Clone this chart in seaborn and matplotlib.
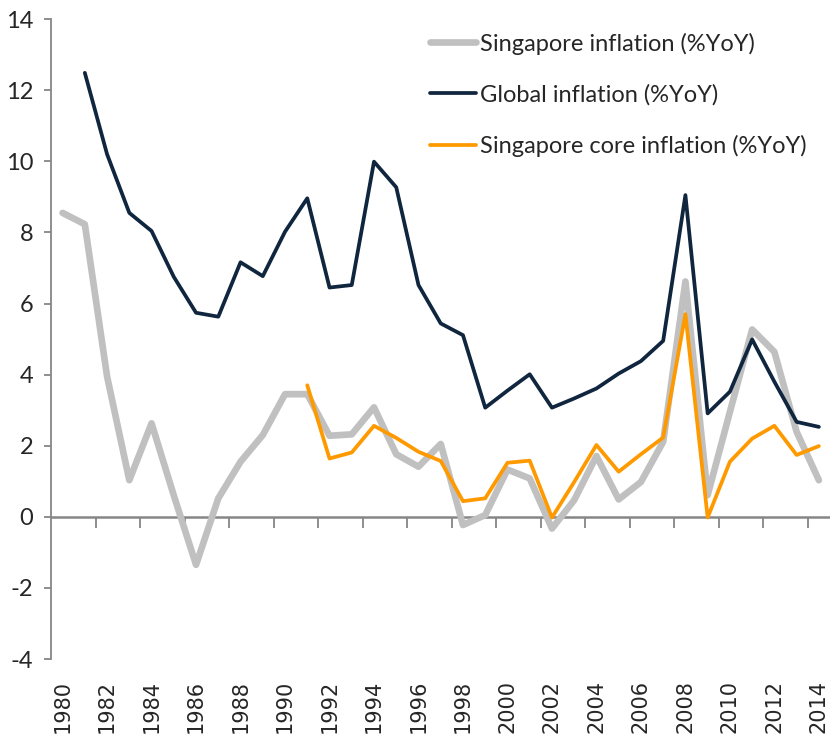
import numpy as np
import pandas as pd
import seaborn as sns
import matplotlib.pyplot as plt

# Yillik enflasyon verileri (%YoY), 1980-2014
years = list(range(1980, 2015))
nan = np.nan

sg_headline = [8.55, 8.23, 3.95, 1.03, 2.63, 0.6, -1.35, 0.52, 1.55, 2.3,
               3.45, 3.45, 2.28, 2.32, 3.08, 1.76, 1.41, 2.05, -0.23, 0.05,
               1.33, 1.08, -0.33, 0.47, 1.71, 0.49, 0.98, 2.11, 6.62, 0.61,
               2.95, 5.27, 4.64, 2.39, 1.03]

global_infl = [nan, 12.49, 10.2, 8.55, 8.04, 6.75, 5.74, 5.63, 7.16, 6.77,
               8.02, 8.96, 6.45, 6.52, 9.99, 9.27, 6.52, 5.44, 5.11, 3.07,
               3.55, 4.01, 3.07, 3.33, 3.61, 4.03, 4.38, 4.95, 9.05, 2.91,
               3.52, 4.99, 3.8, 2.67, 2.53]

sg_core = [nan] * 11 + [3.7, 1.64, 1.81, 2.56, 2.22, 1.83, 1.57, 0.44, 0.52,
                        1.52, 1.58, -0.02, 0.98, 2.02, 1.27, 1.76, 2.23, 5.7,
                        -0.02, 1.55, 2.2, 2.56, 1.74, 1.99]

labels = ["Singapore inflation (%YoY)", "Global inflation (%YoY)",
          "Singapore core inflation (%YoY)"]

df = pd.DataFrame({"year": years, "sg": sg_headline,
                   "glob": global_infl, "core": sg_core})

sns.set_style("white")
plt.rcParams["font.family"] = ["Lato", "DejaVu Sans"]
plt.rcParams["axes.unicode_minus"] = False

fig = plt.figure(figsize=(8.3, 7.51), dpi=100)
ax = fig.add_axes([0.062, 0.1225, 0.938, 0.852])

axis_gray = "#868686"

sns.lineplot(data=df, x="year", y="sg", color="#C0C0C0", lw=4.8,
             label=labels[0], ax=ax)
sns.lineplot(data=df, x="year", y="glob", color="#10263F", lw=2.7,
             label=labels[1], ax=ax)
sns.lineplot(data=df, x="year", y="core", color="#FF9900", lw=2.7,
             label=labels[2], ax=ax)

ax.set_xlim(1979.5, 2014.5)
ax.set_ylim(-4, 14)
ax.set_yticks(range(-4, 15, 2))
ax.set_xticks(range(1980, 2015, 2))
ax.set_xlabel("")
ax.set_ylabel("")

# eksenler
for s in ["top", "right", "bottom"]:
    ax.spines[s].set_visible(False)
ax.spines["left"].set_color(axis_gray)
ax.spines["left"].set_linewidth(1.3)
ax.tick_params(axis="y", direction="out", length=5, width=1.3,
               color=axis_gray, pad=8, labelsize=17, left=True)
ax.tick_params(axis="x", length=0, pad=15, labelrotation=90)
for t in ax.get_xticklabels():
    t.set_fontfamily("DejaVu Sans")
    t.set_fontsize(15)

# sifir cizgisi ve tick isaretleri
zero_ax = ax.secondary_xaxis(0, transform=ax.transData)
zero_ax.set_xticks([y + 0.5 for y in range(1981, 2014, 2)])
zero_ax.set_xticklabels([])
zero_ax.tick_params(direction="out", length=8, width=1.3, color=axis_gray)
zero_ax.spines["bottom"].set_color(axis_gray)
zero_ax.spines["bottom"].set_linewidth(1.8)

ax.legend(loc="upper left", bbox_to_anchor=(0.465, 1.005), frameon=False,
          fontsize=17, handlelength=1.95, handletextpad=0.15,
          labelspacing=1.25, borderaxespad=0.3)

fig.savefig("out.png", dpi=100)
